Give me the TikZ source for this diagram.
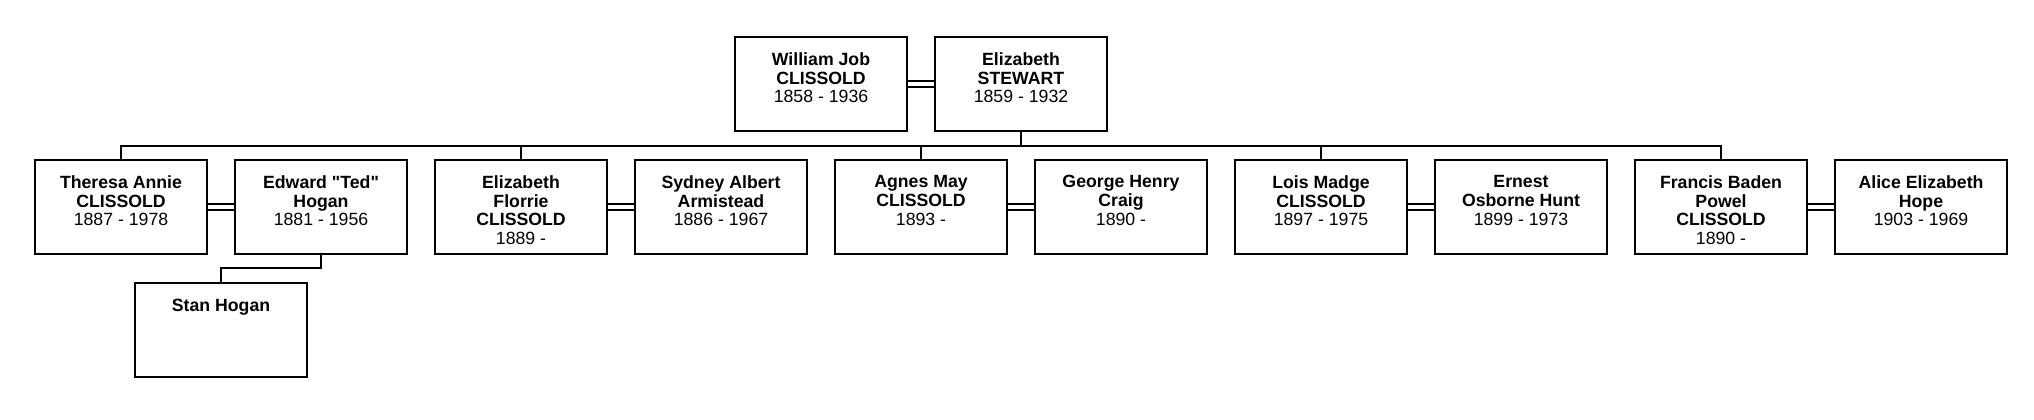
\documentclass[tikz,border=0pt]{standalone}
\usepackage{fontspec}
\setmainfont{Liberation Sans}[Ligatures=TeXOff]
\begin{document}
\begin{tikzpicture}[x=1pt,y=-1pt,
  person/.style={draw, line width=2.3pt, rectangle, inner sep=0pt, minimum width=172pt, minimum height=94pt},
  txt/.style={anchor=north, inner sep=0pt, align=center, font=\fontsize{17.7}{18.7}\selectfont, execute at begin node=\rule{0pt}{13pt}},
  conn/.style={line width=2.2pt},
  wed/.style={line width=2pt}]
\useasboundingbox (0,0) rectangle (2034,420);
% grandparents
\node[person] (gp1) at (821,84) {};
\node[person] (gp2) at (1021,84) {};
\node[txt] (t-gp1) at ([yshift=-16.5pt]gp1.north) {\textbf{William Job}\\\textbf{CLISSOLD}\\1858 - 1936};
\node[txt] (t-gp2) at ([yshift=-16.5pt]gp2.north) {\textbf{Elizabeth}\\\textbf{STEWART}\\1859 - 1932};
% children row
\foreach \i in {1,...,10} {
  \node[person] (c\i) at ({121+200*(\i-1)},207) {};
}
\node[txt] (t-c1) at ([yshift=-16.5pt]c1.north) {\textbf{Theresa Annie}\\\textbf{CLISSOLD}\\1887 - 1978};
\node[txt] (t-c2) at ([yshift=-16.5pt]c2.north) {\textbf{Edward "Ted"}\\\textbf{Hogan}\\1881 - 1956};
\node[txt] (t-c3) at ([yshift=-16.5pt]c3.north) {\textbf{Elizabeth}\\\textbf{Florrie}\\\textbf{CLISSOLD}\\1889 -};
\node[txt] (t-c4) at ([yshift=-16.5pt]c4.north) {\textbf{Sydney Albert}\\\textbf{Armistead}\\1886 - 1967};
\node[txt] (t-c5) at ([yshift=-16.5pt]c5.north) {\textbf{Agnes May}\\\textbf{CLISSOLD}\\1893 -};
\node[txt] (t-c6) at ([yshift=-16.5pt]c6.north) {\textbf{George Henry}\\\textbf{Craig}\\1890 -};
\node[txt] (t-c7) at ([yshift=-16.5pt]c7.north) {\textbf{Lois Madge}\\\textbf{CLISSOLD}\\1897 - 1975};
\node[txt] (t-c8) at ([yshift=-16.5pt]c8.north) {\textbf{Ernest}\\\textbf{Osborne Hunt}\\1899 - 1973};
\node[txt] (t-c9) at ([yshift=-16.5pt]c9.north) {\textbf{Francis Baden}\\\textbf{Powel}\\\textbf{CLISSOLD}\\1890 -};
\node[txt] (t-c10) at ([yshift=-16.5pt]c10.north) {\textbf{Alice Elizabeth}\\\textbf{Hope}\\1903 - 1969};
% grandchild
\node[person] (stan) at (221,330) {};
\node[txt] (t-stan) at ([yshift=-16.5pt]stan.north) {\textbf{Stan Hogan}};
% marriages
\foreach \a/\b in {gp1/gp2, c1/c2, c3/c4, c5/c6, c7/c8, c9/c10} {
  \draw[wed] ([yshift=3pt]\a.east) -- ([yshift=3pt]\b.west);
  \draw[wed] ([yshift=-3pt]\a.east) -- ([yshift=-3pt]\b.west);
}
% descent
\coordinate (bar) at (1021,146);
\draw[conn] (gp2.south) -- (bar);
\draw[conn] (c1.north) |- (bar) -| (c9.north);
\foreach \c in {c3,c5,c7} {
  \draw[conn] (\c.north) -- (\c.north |- bar);
}
\coordinate (sbar) at (221,268);
\draw[conn] (c2.south) |- (sbar) -- (stan.north);
\end{tikzpicture}
\end{document}
